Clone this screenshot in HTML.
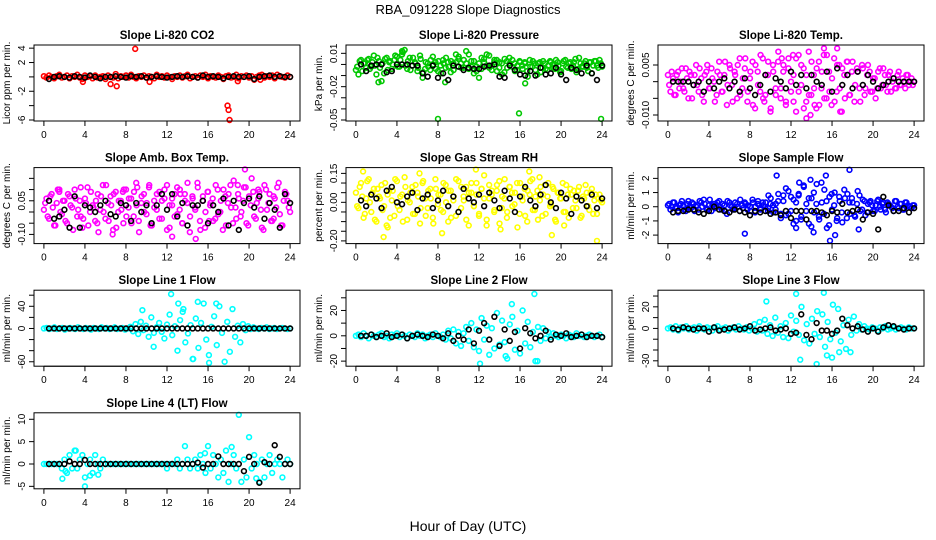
<!DOCTYPE html>
<html><head><meta charset="utf-8"><style>
body{margin:0;background:#fff;}
svg{display:block;font-family:"Liberation Sans",sans-serif;}
</style></head><body>
<svg id="chart" width="936" height="540" viewBox="0 0 936 540">
<rect width="936" height="540" fill="#fff"/>
<text x="468" y="14" text-anchor="middle" font-size="13">RBA_091228  Slope Diagnostics</text>
<text x="468" y="531" text-anchor="middle" font-size="14">Hour of Day (UTC)</text>
</svg>
<script>
const co2C=[0.1,-0.1,0.2,0,-0.2,0.1,0.3,-0.1,0,0.2,-0.2,0.1,0,0.3,-0.1,-0.3,0.2,0,0.1,-0.2,0.2,-0.1,0,0.1,-0.3,0.2,0,-0.1,0.4,-0.2,0.1,0,0.2,-0.1,0.3,0,-0.2,0.1,0,0.2,-0.1,0.1,0,-0.2,0.3,0,0.1,-0.1,0.2,0,-0.3,0.1,0,0.2,-0.1,0.1,0.3,-0.2,0,0.1,-0.1,0.2,0,0.3,-0.2,0.1,0,-0.1,0.2,0,-0.3,0.1,0.2,-0.1,0,0.3,-0.2,0.1,0,0.2,-0.1,0.1,-0.4,0,0.2,0.3,-0.1,0.1,0,0.2,-0.2,0.3,0.1,0,-0.1,0.2,0];
const co2C2=[];
const co2XH=[3.8,6.5,7.1,8.9,10.3,17.9,18,18.1,18.9,21.1];
const co2XV=[-0.7,-1,-1.3,3.9,-0.7,-4,-4.6,-6,-0.6,-0.4];
const co2K=[-0.3,0,0.1,0,-0.1,0.1,0,-0.1,0.2,0,-0.2,0,0,0.1,0,-0.1,0.1,0,0.1,-0.1,0,0.1,0,-0.1,0,0.1,0,0.1,0,-0.1,0.2,0,0.1,0,-0.2,0,0.1,0,0,0.1,-0.3,0,0.1,0.2,0,0.1,0,0];

const presC=[-0.005,-0.009,0.004,0.001,-0.003,0.005,-0.002,0.008,-0.009,0.003,-0.015,-0.008,0.006,0.002,-0.004,0.004,0.007,-0.002,0.009,0.013,-0.004,0.006,-0.001,0.002,-0.006,0.008,-0.012,-0.004,0.001,-0.005,0.007,0.002,-0.006,-0.001,0.004,-0.003,0.002,-0.007,0.001,0.009,0.005,0.001,-0.003,0.012,-0.004,0.003,-0.008,-0.002,-0.012,0.006,0.002,0.009,-0.003,-0.001,0.004,-0.006,0.002,-0.009,0.005,-0.003,0.001,0.004,-0.006,-0.001,0.002,-0.004,0.001,-0.011,-0.002,0.003,-0.005,0.001,-0.007,0.003,-0.004,-0.001,0.002,-0.003,0.004,-0.001,-0.006,0.003,-0.002,0.001,-0.004,0.002,-0.007,0.006,-0.002,0.001,-0.003,0.002,-0.008,0.003,-0.001,0.004,-0.002];
const presC2=[-0.002,0.003,-0.006,0.001,0.004,-0.004,0.002,-0.001,0.006,-0.003,0.001,0.005,-0.005,0.003,0,0.008,-0.002,0.004,0.011,-0.001,0.003,-0.005,0.006,0.001,-0.003,0.005,-0.007,0.002,-0.002,0.004,0,-0.004,0.003,-0.008,0.001,0.006,-0.002,0.003,-0.005,0.002,0.007,-0.003,0.004,0.001,0.009,-0.002,0.003,-0.006,0.001,-0.004,0.005,-0.001,0.008,-0.005,0.002,0.004,-0.003,0.001,-0.007,0.003,0.006,-0.002,0.001,-0.005,0.003,-0.001,0.002,-0.006,0.004,-0.002,0.001,-0.009,0.002,-0.003,0.001,-0.005,0.003,0,-0.004,0.002,-0.007,0.001,0.004,-0.003,0.002,-0.001,0.005,-0.004,0.001,-0.002,0.003,-0.006,0.002,-0.001,0.003,-0.003,0.001];
const presXH=[8,15.9,23.9,2.2,16.5,4.5,8.7];
const presXV=[-0.049,-0.044,-0.049,-0.016,-0.017,0.012,-0.016];
const presK=[0,-0.006,-0.001,0,0,-0.007,-0.006,0,0,0,-0.001,-0.001,-0.008,-0.011,-0.001,-0.012,-0.008,-0.014,-0.001,-0.002,-0.005,-0.003,-0.004,-0.004,-0.002,-0.001,0,-0.011,-0.012,-0.001,-0.005,-0.009,-0.01,-0.006,-0.01,-0.003,-0.009,-0.008,-0.003,-0.009,-0.014,-0.003,-0.005,-0.008,-0.001,-0.008,-0.014,-0.001];

const tempC=[0.002,-0.003,0.001,-0.004,0.003,0,-0.002,0.004,-0.005,0.002,-0.001,0.005,-0.003,0.001,-0.006,0.003,-0.002,0.004,0,-0.004,0.006,-0.003,0.002,-0.007,0.005,-0.001,0.003,-0.005,0.007,-0.002,0.004,-0.006,0.001,0.006,-0.008,0.003,-0.003,0.007,-0.004,0.002,-0.009,0.005,-0.002,0.006,-0.005,0.003,-0.007,0.004,0,-0.006,0.007,-0.003,0.005,-0.008,0.002,-0.004,0.006,-0.002,0.004,-0.007,0.003,-0.005,0.008,-0.003,0.001,-0.006,0.005,-0.002,0.004,-0.005,0.002,-0.004,0.006,-0.001,0.003,-0.006,0.004,-0.002,0.005,-0.003,0.001,-0.005,0.003,-0.002,0.004,-0.001,0.002,-0.003,0.001,-0.002,0.003,-0.001,0,0.002,-0.001,0.001,0];
const tempC2=[-0.001,0.003,-0.004,0.002,-0.002,0.004,-0.003,0.001,0.003,-0.005,0.002,-0.001,0.004,-0.004,0.002,0.005,-0.002,0.001,-0.006,0.003,0.002,-0.003,0.006,-0.001,0.004,-0.006,0.002,0.005,-0.004,0.001,0.007,-0.003,0.003,-0.007,0.005,-0.001,0.008,-0.005,0.002,0.006,-0.008,0.003,-0.004,0.009,-0.002,0.005,-0.006,0.007,-0.003,0.002,-0.009,0.008,-0.001,0.004,-0.006,0.009,-0.004,0.002,-0.008,0.006,-0.002,0.01,-0.005,0.003,-0.007,0.007,-0.003,0.005,-0.009,0.002,0.006,-0.004,0.003,-0.006,0.004,-0.002,0.005,-0.004,0.002,0.003,-0.003,0.001,-0.002,0.004,-0.001,0.002,-0.003,0.003,0,-0.002,0.002,-0.001,0.001,-0.002,0.002,0,-0.001];
const tempXH=[13.5,15.2,16.8,11.1,9.4,17.5,14.3,12.2,16.5,13.9];
const tempXV=[-0.011,0.008,-0.009,0.007,-0.006,0.006,-0.007,0.008,0.01,-0.01];
const tempK=[0,0,0,0,-0.001,0,-0.003,0,-0.002,0,0.001,-0.002,0,-0.003,0.001,-0.002,-0.004,-0.001,0.002,-0.003,0.001,0,-0.002,0.003,-0.001,0.002,-0.002,0.002,0,-0.001,0.003,-0.003,0.004,-0.001,0.002,-0.002,0.003,-0.001,0.002,0,-0.002,-0.001,0,0.001,0,0,0,0];

const ambC=[0.01,0.06,-0.03,0.08,-0.06,0.04,0.09,-0.01,0.05,-0.05,0.07,0.02,0.1,-0.02,0.05,-0.07,0.06,0.11,0,0.03,-0.04,0.08,0.01,0.12,-0.03,0.04,0.07,-0.08,0.09,0,0.05,-0.05,0.1,0.02,0.06,-0.02,0.13,-0.04,0.04,0.08,-0.01,0.11,-0.06,0.05,0.01,0.09,-0.03,0.06,0.12,-0.07,0.03,0.08,-0.01,0.1,-0.05,0.05,0.13,-0.02,0.06,0.01,0.11,-0.08,0.07,0,0.09,0.04,-0.04,0.12,-0.01,0.05,0.1,-0.06,0.08,0.02,0.14,-0.03,0.06,0,0.11,-0.05,0.07,0.15,-0.02,0.04,0.09,-0.07,0.12,0.01,0.08,-0.04,0.06,0.11,-0.01,-0.06,0.09,0.05,0];
const ambC2=[0.04,-0.02,0.07,0.02,-0.06,0.1,0,0.05,-0.04,0.08,0.03,-0.08,0.06,0.01,0.11,-0.03,0.04,-0.06,0.09,0.02,0.05,-0.09,0.07,0,0.12,-0.04,0.03,0.08,-0.07,0.05,0.01,0.1,-0.02,0.06,-0.05,0.09,0.03,-0.09,0.07,0,0.04,0.12,-0.06,0.02,0.08,-0.03,0.05,0.1,-0.08,0.03,0.06,-0.02,0.11,0.01,-0.05,0.08,0.04,-0.09,0.07,0.02,0.13,-0.04,0.05,-0.07,0.09,0.03,0.06,-0.03,0.1,0,-0.08,0.07,0.04,0.12,-0.05,0.02,0.08,-0.02,0.05,0.11,-0.06,0.03,0.09,-0.03,0.06,0.01,-0.08,0.1,0.04,-0.04,0.07,0.02,0.13,-0.06,0.05,0.08,0.02];
const ambXH=[1.5,5.2,7.7,10.4,13.3,16.1,19.6,22.4,3.6,9.1,14.8,20.9,18.9,6.7,12.5];
const ambXV=[0.1,-0.05,0.09,-0.06,0.08,-0.04,0.19,-0.03,-0.02,0.11,-0.12,0.1,0.12,-0.1,-0.11];
const ambK=[0.05,-0.03,-0.02,0.01,-0.07,0.07,-0.07,0.03,0.02,0,0.03,0.05,-0.01,-0.02,0.04,0.03,-0.04,0.04,0,0.03,-0.05,0.03,0.08,0.01,0.08,-0.02,0.04,-0.06,0.03,0.03,0.05,-0.05,0.03,0,0.06,-0.06,0.05,-0.08,0.04,0.06,0.02,0.07,-0.03,0.04,0.01,-0.07,0.08,0.04];

const rhC=[0.05,-0.03,0.1,-0.08,0.02,0.12,-0.05,0.07,-0.1,0.03,0.09,-0.02,-0.12,0.06,0.01,-0.07,0.11,-0.04,0.04,0.13,-0.09,0,0.08,-0.06,0.05,-0.11,0.1,0.02,-0.03,0.07,-0.08,0.12,-0.01,0.04,-0.05,0.09,-0.1,0.06,0.01,-0.07,0.11,-0.03,0.03,0.08,-0.12,0.05,-0.02,0.1,-0.06,0.07,0.14,-0.09,0.02,0.06,-0.04,0.09,-0.11,0.03,0.12,-0.05,0.08,-0.02,0.05,-0.13,0.1,0.01,-0.07,0.06,0.11,-0.04,0.03,-0.09,0.08,0.04,-0.06,0.1,-0.01,0.07,-0.1,0.05,0.02,-0.05,0.09,-0.08,0.04,0.06,-0.03,0.08,-0.07,0.02,0.05,-0.04,0.07,0.01,-0.06,0.04,0];
const rhC2=[-0.02,0.08,0.03,-0.06,0.11,0,0.05,-0.09,0.07,0.02,-0.04,0.1,0.04,-0.08,0.06,0.12,-0.02,0.03,-0.1,0.08,0.01,0.05,-0.06,0.09,0.03,-0.03,0.11,-0.07,0.06,0.02,-0.11,0.07,0.04,-0.04,0.1,0,0.06,-0.08,0.03,0.12,-0.05,0.08,0.01,-0.09,0.05,0.1,-0.02,0.04,-0.07,0.07,0.02,-0.12,0.09,0.04,-0.05,0.06,0.11,-0.03,0.02,-0.08,0.08,0.05,-0.01,0.1,-0.06,0.03,0.07,-0.1,0.04,0.12,-0.04,0.06,0.01,-0.07,0.09,0.03,-0.02,0.08,-0.09,0.05,0.02,0.1,-0.05,0.04,0.07,-0.03,0.01,0.06,-0.08,0.03,0.09,-0.02,0.05,-0.06,0.04,0.02,0.01];
const rhXH=[0.7,3.1,6.2,8.4,11.7,14.1,17.9,20.3,23.5,16.9,2.7,19.1];
const rhXV=[0.16,-0.13,0.15,-0.16,0.17,-0.14,0.13,-0.12,-0.2,0.16,-0.18,-0.17];
const rhK=[0.01,-0.02,0.04,0.02,-0.03,0.06,0.08,0,-0.01,0.03,0.05,-0.04,0.02,0.04,-0.03,0.01,0.06,-0.02,0.03,-0.05,0.07,0.02,0,0.04,-0.02,0.05,0.01,-0.03,0.06,0.02,-0.05,0.03,0.08,0.01,-0.02,0.04,0.09,0,-0.03,0.05,0.02,-0.06,0.03,0.01,-0.02,0.04,-0.03,0.02];

const flowC=[0.1,-0.2,0.3,0,-0.4,0.2,0.1,-0.3,0.4,-0.1,0.2,0,-0.2,0.3,0.5,-0.1,0.1,-0.3,0.2,0,0.4,-0.2,0.1,-0.5,0.3,0,-0.1,0.2,-0.3,0.1,0.3,-0.2,0,0.5,-0.4,0.2,-0.1,0.3,0,-0.3,0.2,0.1,-0.2,0.4,-0.5,0.8,-0.6,1.1,-0.3,0.5,-1,0.9,-0.7,1.4,0.2,-1.2,0.6,-0.4,1.6,-0.9,0.3,1.2,-1.5,0.7,-0.2,1,-0.8,0.4,-1.1,0.6,0.9,-0.5,0.3,-0.7,1.1,-0.3,0.5,-0.6,0.2,0.4,-0.3,0.1,0.5,-0.2,0.3,-0.4,0.2,0,-0.3,0.4,-0.1,0.2,-0.2,0.3,0,-0.1,0.1];
const flowC2=[0.2,0,0.3,-0.1,0.1,0.4,-0.2,0.2,0,0.3,-0.3,0.1,0.4,0,0.2,-0.2,0.5,0.1,-0.1,0.3,0,0.2,-0.3,0.4,0.1,-0.2,0.3,0,0.5,-0.1,0.2,0.1,-0.3,0.3,0,0.4,-0.2,0.1,0.3,-0.1,0.6,-0.4,0.2,0.9,-0.8,0.4,1.3,-0.5,0.7,-1.2,0.3,0.8,-0.9,1.5,-0.3,0.6,-1.4,1,0.2,-0.7,1.7,-0.5,0.4,-1.3,0.9,0.1,-1,0.7,-0.4,1.2,-0.8,0.3,0.6,-0.6,0.2,0.8,-0.2,0.4,-0.4,0.3,0.1,-0.3,0.4,0,0.2,-0.2,0.3,0.1,-0.1,0.4,0,0.2,-0.2,0.3,0.1,0,0.1];
const flowXH=[15.8,15.4,16.3,17.7,14.2,13.9,18.6,12.8,7.5,9.8,10.6,12.5];
const flowXV=[-2.4,2.2,-2,2.6,-1.8,1.9,-1.6,1.7,-1.9,0.8,2.2,-1.5];
const flowK=[-0.4,-0.3,-0.3,-0.2,-0.2,-0.4,-0.5,-0.3,0,-0.2,-0.3,-0.4,-0.2,-0.3,-0.4,-0.6,-0.3,-0.4,-0.3,-0.5,-0.4,-0.6,-0.3,-0.8,-0.3,-0.3,-0.9,-0.3,-0.3,-0.4,-0.6,-0.3,-0.4,0.2,-0.4,-0.3,-0.2,-0.9,-0.4,-0.5,-1.6,0.7,0.1,-0.3,-0.3,-0.1,-0.4,-0.1];

const l1C=[0,1,-1,0,2,-1,0,1,-2,0,1,0,-1,2,0,-1,1,0,-2,1,0,-1,2,0,1,-1,0,2,-1,0,1,-2,0,3,-5,8,-10,12,-3,5,-15,20,-8,2,10,-6,-18,7,25,-12,4,-40,15,30,-25,-9,6,-55,18,-35,10,45,-20,-48,3,22,-30,40,-8,-60,12,-42,35,-15,5,-25,8,-3,4,-1,2,0,-1,1,0,2,-1,0,1,-1,0,1,0,-1,0];
const l1C2=[];
const l1XH=[12.4,9.6,14.5,16.1,13.1,15,16.8,10.7,13.6];
const l1XV=[62,33,-55,-62,45,48,45,-33,35];
const l1K=[0,0,0,0,0,0,0,0,0,0,0,0,0,0,0,0,0,0,0,0,0,0,0,0,0,0,0,0,0,0,0,0,0,0,0,0,0,0,0,0,0,0,0,0,0,0,0,0];

const l2C=[0,1,-1,2,0,-2,1,0,-1,1,2,-1,0,-2,1,0,2,-1,1,0,-2,1,0,-1,2,0,1,-2,0,1,-1,2,0,-1,1,-3,4,-2,5,-6,3,-8,2,7,-4,10,-9,5,-12,14,-3,8,-15,6,-10,18,-7,12,-5,-18,9,15,-11,4,-14,20,-6,11,-9,3,-20,7,-4,6,-2,3,-1,2,0,-1,1,0,-2,1,0,-1,2,0,1,-1,0,1,0,-1,0,1,-1];
const l2C2=[];
const l2XH=[17.4,17.7,12.1,14.6,15.2];
const l2XV=[33,-20,-22,-16,25];
const l2K=[0,0,1,-1,0,2,-1,0,1,-2,0,1,0,-1,1,0,-2,2,-4,0,-3,5,-6,4,10,-3,15,-8,5,-4,3,-10,6,2,-2,0,4,-3,1,0,2,-1,0,1,-1,0,0,-1];

const l3C=[0,1,-1,2,-2,1,0,2,-1,0,1,-2,2,0,-1,1,0,-2,1,2,-1,0,1,-2,0,1,-1,2,0,-1,1,-2,0,4,-3,6,-2,8,-5,3,-7,10,-4,2,-8,5,-9,12,-3,7,-6,20,-11,4,-14,9,-5,16,-8,13,-17,6,-10,22,-4,18,-12,3,-19,8,-6,11,-2,4,-1,2,0,-1,1,0,-2,1,0,2,-1,0,1,-1,0,1,0,-1,1,0,0];
const l3C2=[];
const l3XH=[12.5,15.2,9.6,12.9,14.5,16,15.5,16.7,17.8];
const l3XV=[32,33,25,-29,-33,-27,-25,-22,-22];
const l3K=[0,-1,1,0,-1,0,0,-3,1,-2,-1,0,1,-1,0,2,-2,-1,0,1,-2,-1,0,-5,-4,13,-6,-10,5,-2,-2,-5,-2,9,3,0,2,-1,-3,0,-3,1,3,2,0,-1,0,0];

const l4C=[0,0,0,0,0,0,0,-1,1,-2,2,-1,3,-1,1,2,-3,0,1,-2,2,0,-1,1,0,0,0,0,0,0,0,0,0,0,0,0,0,0,0,0,0,0,0,0,0,0,0,0,-1,0,0,0,1,-1,0,4,1,-1,0,1,-1,2,0,-2,4,-1,2,0,-3,1,-2,3,-4,0,2,-1,11,-4,1,-3,6,-1,2,0,-4,1,-3,0,2,-2,0,1,0,-3,0,1,0];
const l4C2=[];
const l4XH=[1.8,2.1,4,4.5,5.3,3.1,15.7,18.3,20.7];
const l4XV=[-3.3,-1.6,-5,-2.6,-2.4,3,2.4,3.8,-3.2];
const l4K=[0,0,0,0,0.6,0,0,0.9,0,0,0,0,0,0,0,0,0,0,0,0,0,0,0,0,0,0,0,0,0,0.3,-0.8,0,0,1.7,0,0,0,0,-1.6,1.6,0,-4.2,0.4,0,4.2,1.6,0,0];

const xTicks=[0,4,8,12,16,20,24];
const co2Ticks=[4,2,0,-2,-4,-6];const co2Labels=["4","2","","-2","","-6"];
const presTicks=[0.01,0,-0.01,-0.02,-0.03,-0.04,-0.05];const presLabels=["0.01","","","-0.02","","","-0.05"];
const tempTicks=[0.005,0,-0.005,-0.01];const tempLabels=["0.005","","","-0.010"];
const ambTicks=[0.15,0.1,0.05,0,-0.05,-0.1];const ambLabels=["","","0.05","","","-0.10"];
const rhTicks=[0.15,0.1,0.05,0,-0.05,-0.1,-0.15,-0.2];const rhLabels=["0.15","","","0.00","","","","-0.20"];
const flowTicks=[2,1,0,-1,-2];const flowLabels=["2","1","0","-1","-2"];
const l1Ticks=[60,40,20,0,-20,-40,-60];const l1Labels=["","40","","0","","","-60"];
const l2Ticks=[30,20,10,0,-10,-20];const l2Labels=["","20","","0","","-20"];
const l3Ticks=[30,20,10,0,-10,-20,-30];const l3Labels=["","20","","0","","","-30"];
const l4Ticks=[10,5,0,-5];const l4Labels=["10","5","0","-5"];

const panels=[
 {n:"co2",t:"Slope Li-820 CO2",yl:"Licor ppm per min.",col:"#ff0000",c:co2C,c2:co2C2,xh:co2XH,xv:co2XV,k:co2K,ymin:-6.14,ymax:4.44,tk:co2Ticks,tl:co2Labels},
 {n:"pressure",t:"Slope Li-820 Pressure",yl:"kPa per min.",col:"#00c800",c:presC,c2:presC2,xh:presXH,xv:presXV,k:presK,ymin:-0.0509,ymax:0.0175,tk:presTicks,tl:presLabels},
 {n:"temp",t:"Slope Li-820 Temp.",yl:"degrees C per min.",col:"#ff00ff",c:tempC,c2:tempC2,xh:tempXH,xv:tempXV,k:tempK,ymin:-0.0118,ymax:0.011,tk:tempTicks,tl:tempLabels},
 {n:"amb-box-temp",t:"Slope Amb. Box Temp.",yl:"degrees C per min.",col:"#ff00ff",c:ambC,c2:ambC2,xh:ambXH,xv:ambXV,k:ambK,ymin:-0.141,ymax:0.198,tk:ambTicks,tl:ambLabels},
 {n:"gas-stream-rh",t:"Slope Gas Stream RH",yl:"percent per min.",col:"#ffff00",c:rhC,c2:rhC2,xh:rhXH,xv:rhXV,k:rhK,ymin:-0.214,ymax:0.18,tk:rhTicks,tl:rhLabels},
 {n:"sample-flow",t:"Slope Sample Flow",yl:"ml/min per min.",col:"#0000ff",c:flowC,c2:flowC2,xh:flowXH,xv:flowXV,k:flowK,ymin:-2.6,ymax:2.76,tk:flowTicks,tl:flowLabels},
 {n:"line1-flow",t:"Slope Line 1 Flow",yl:"ml/min per min.",col:"#00ffff",c:l1C,c2:l1C2,xh:l1XH,xv:l1XV,k:l1K,ymin:-68,ymax:69,tk:l1Ticks,tl:l1Labels},
 {n:"line2-flow",t:"Slope Line 2 Flow",yl:"ml/min per min.",col:"#00ffff",c:l2C,c2:l2C2,xh:l2XH,xv:l2XV,k:l2K,ymin:-24,ymax:36,tk:l2Ticks,tl:l2Labels},
 {n:"line3-flow",t:"Slope Line 3 Flow",yl:"ml/min per min.",col:"#00ffff",c:l3C,c2:l3C2,xh:l3XH,xv:l3XV,k:l3K,ymin:-35,ymax:35.4,tk:l3Ticks,tl:l3Labels},
 {n:"line4-flow",t:"Slope Line 4 (LT) Flow",yl:"ml/min per min.",col:"#00ffff",c:l4C,c2:l4C2,xh:l4XH,xv:l4XV,k:l4K,ymin:-5.55,ymax:11.45,tk:l4Ticks,tl:l4Labels}
];

const NS="http://www.w3.org/2000/svg";
const svg=document.getElementById("chart");
function mk(tag,attrs,parent){const e=document.createElementNS(NS,tag);for(const a in attrs)e.setAttribute(a,attrs[a]);parent.appendChild(e);return e;}
const colLeft=[34,346,658],W=266,H=76;
panels.forEach((p,i)=>{
 const L=colLeft[i%3],T=45+122.6*Math.floor(i/3),B=T+H;
 const xs=h=>L+9.9+h/24*246.2;
 const ys=v=>B-(v-p.ymin)/(p.ymax-p.ymin)*H;
 const g=mk("g",{},svg);
 
 
 const ti=mk("text",{x:L+W/2,y:T-6,"text-anchor":"middle","font-size":"11.5","font-weight":"bold"},g);ti.textContent=p.t;
 
 
 const yt=mk("text",{transform:`translate(${L-24},${T+H/2}) rotate(-90)`,"text-anchor":"middle","font-size":"10"},g);yt.textContent=p.yl;
 
 
 const pts=mk("g",{fill:"none","stroke-width":"1.6"},g);
 
 
 p.c.forEach((v,j)=>{const h=j*24/(p.c.length-1);const c=mk("circle",{cx:xs(h),cy:ys(v),r:2.4,stroke:p.col},pts);
  
  });
 p.c2.forEach((v,j)=>{const h=0.125+j*23.75/(p.c2.length-1);const c=mk("circle",{cx:xs(h),cy:ys(v),r:2.4,stroke:p.col},pts);
  
  });
 p.xh.forEach((h,j)=>{const c=mk("circle",{cx:xs(h),cy:ys(p.xv[j]),r:2.4,stroke:p.col},pts);
  
  });
 p.k.forEach((v,j)=>{const h=0.5+j*23.5/(p.k.length-1);const c=mk("circle",{cx:xs(h),cy:ys(v),r:2.4,stroke:"#000"},pts);
  
  });
 const box=mk("rect",{x:L,y:T,width:W,height:H,fill:"none",stroke:"#000","stroke-width":"1"},g);
 
 
 const xa=mk("g",{},g);
 
 
 mk("line",{x1:xs(0),x2:xs(24),y1:B,y2:B,stroke:"#000"},xa);
 xTicks.forEach(h=>{mk("line",{x1:xs(h),x2:xs(h),y1:B,y2:B+5,stroke:"#000"},xa);
  const t=mk("text",{x:xs(h),y:B+17,"text-anchor":"middle","font-size":"10"},xa);t.textContent=h;});
 const ya=mk("g",{},g);
 
 
 mk("line",{x1:L,x2:L,y1:ys(p.tk[0]),y2:ys(p.tk[p.tk.length-1]),stroke:"#000"},ya);
 p.tk.forEach((v,j)=>{const y=ys(v);mk("line",{x1:L-5,x2:L,y1:y,y2:y,stroke:"#000"},ya);
  if(p.tl[j]){const t=mk("text",{transform:`translate(${L-9},${y}) rotate(-90)`,"text-anchor":"middle","font-size":"10"},ya);t.textContent=p.tl[j];}});
});
</script>
</body></html>
